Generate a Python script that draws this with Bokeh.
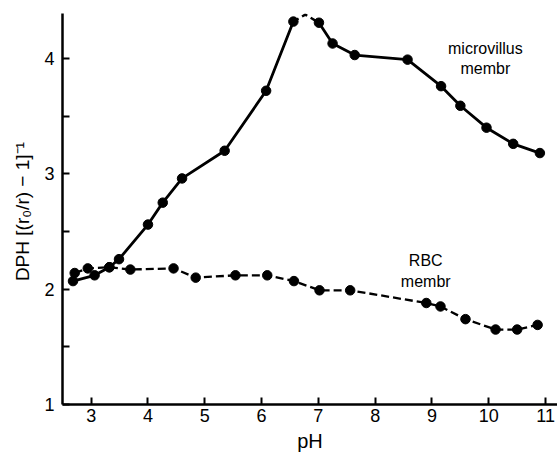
from bokeh.plotting import figure
from bokeh.models import Range1d, FixedTicker, Label, ColumnDataSource
from bokeh.embed import file_html
from bokeh.resources import INLINE

# microvillus membrane (solid curve)
mv_ph = [2.68, 3.06, 3.32, 3.49, 4.00, 4.26, 4.60, 5.35, 6.08, 6.56, 7.01, 7.25, 7.64, 8.57, 9.16, 9.50, 9.96, 10.43, 10.90]
mv_val = [2.07, 2.12, 2.19, 2.26, 2.56, 2.75, 2.96, 3.20, 3.72, 4.32, 4.31, 4.13, 4.03, 3.99, 3.76, 3.59, 3.40, 3.26, 3.18]
# curve apex between pH 6.56 and 7.01 (drawn dashed, no point)
peak_ph = [6.56, 6.77, 7.01]
peak_val = [4.32, 4.38, 4.31]

# RBC membrane (dashed curve)
rbc_ph = [2.71, 2.94, 3.32, 3.69, 4.45, 4.84, 5.54, 6.10, 6.57, 7.02, 7.56, 8.90, 9.15, 9.59, 10.12, 10.50, 10.86]
rbc_val = [2.14, 2.18, 2.19, 2.17, 2.18, 2.10, 2.12, 2.12, 2.07, 1.99, 1.99, 1.88, 1.85, 1.74, 1.65, 1.65, 1.69]

x_ticks = [3, 4, 5, 6, 7, 8, 9, 10, 11]
y_ticks = [1, 2, 3, 4]
y_minor = [1.5, 2.5, 3.5]

FONT = "Liberation Sans"

p = figure(width=557, height=457, x_range=Range1d(2.495, 11.21), y_range=Range1d(1, 4.39),
           output_backend="svg", toolbar_location=None,
           min_border_left=62, min_border_right=0, min_border_top=13, min_border_bottom=53)
p.outline_line_color = None
p.grid.visible = False

mv_src = ColumnDataSource(dict(x=mv_ph, y=mv_val))
rbc_src = ColumnDataSource(dict(x=rbc_ph, y=rbc_val))

# solid microvillus line, split around apex
split = mv_ph.index(6.56)
p.line(mv_ph[:split + 1], mv_val[:split + 1], line_color="black", line_width=2.8)
p.line(mv_ph[split + 1:], mv_val[split + 1:], line_color="black", line_width=2.8)
p.line(peak_ph, peak_val, line_color="black", line_width=2.4, line_dash="6 4")
p.scatter("x", "y", source=mv_src, size=9.5, color="black")

p.line("x", "y", source=rbc_src, line_color="black", line_width=2.3, line_dash="8 4")
p.scatter("x", "y", source=rbc_src, size=9.5, color="black")

# axes
p.xaxis.ticker = FixedTicker(ticks=x_ticks)
p.yaxis.ticker = FixedTicker(ticks=y_ticks, minor_ticks=y_minor)
for ax in (p.xaxis[0], p.yaxis[0]):
    ax.axis_line_width = 2.5
    ax.axis_line_color = "black"
    ax.major_tick_in = 7
    ax.major_tick_out = 0
    ax.major_tick_line_width = 2
    ax.major_tick_line_color = "black"
    ax.major_label_text_font = FONT
    ax.major_label_text_font_size = "18px"
    ax.major_label_text_color = "black"
    ax.axis_label_text_font = FONT
    ax.axis_label_text_font_style = "normal"
    ax.axis_label_text_color = "black"
p.xaxis.minor_tick_line_color = None
p.yaxis.minor_tick_in = 7
p.yaxis.minor_tick_out = 0
p.yaxis.minor_tick_line_width = 2
p.yaxis.minor_tick_line_color = "black"

p.xaxis.axis_label = "pH"
p.xaxis.axis_label_text_font_size = "20px"
p.xaxis.major_label_standoff = 4
p.xaxis.axis_label_standoff = 5

p.yaxis.axis_label = "DPH  [(r\u2080/r) \u2212 1]\u207b\u00b9"
p.yaxis.axis_label_text_font_size = "19px"
p.yaxis.major_label_standoff = 8
p.yaxis.axis_label_standoff = 8

for txt, x, y in [("microvillus", 9.94, 4.09), ("membr", 9.94, 3.91),
                  ("RBC", 8.89, 2.25), ("membr", 8.89, 2.07)]:
    p.add_layout(Label(x=x, y=y, text=txt, text_align="center", text_baseline="middle",
                       text_font=FONT, text_font_size="16px", text_color="black"))

open("out.html", "w").write(file_html(p, INLINE))
